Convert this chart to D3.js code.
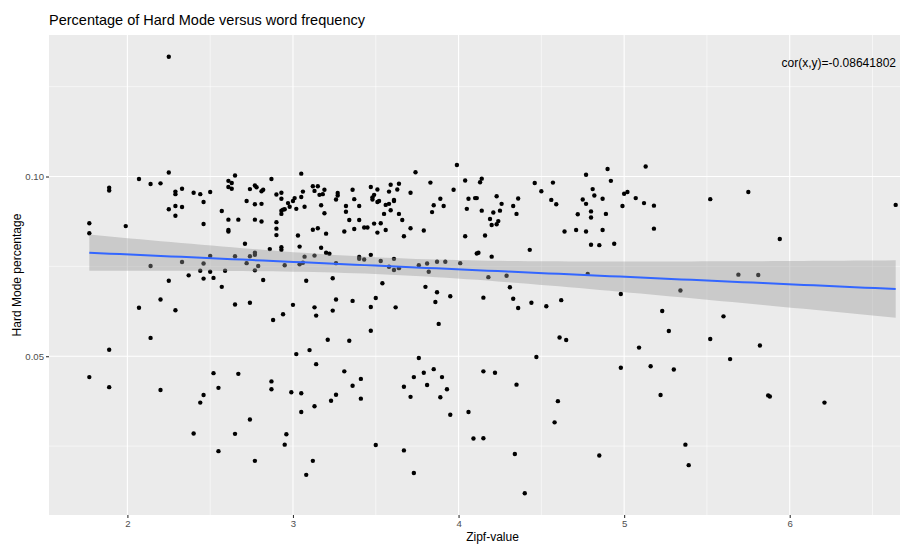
<!DOCTYPE html>
<html>
<head>
<meta charset="utf-8">
<script src="https://cdn.jsdelivr.net/npm/d3@7"></script>
<style>
  html, body { margin: 0; padding: 0; background: #fff; }
  svg { display: block; font-family: "Liberation Sans", Arial, sans-serif; }
</style>
</head>
<body>
<svg id="chart" width="900" height="544"></svg>
<script>
// Zipf frequency value of each word
const zipf = [
  2.25,1.89,1.89,2.07,2.14,2.20,2.25,2.29,2.29,2.33,2.40,2.44,2.50,2.61,2.63,2.65,2.61,2.63,2.74,2.77,2.78,
  2.81,2.82,2.87,2.90,2.93,2.93,3.01,3.05,3.05,3.06,3.12,3.15,3.13,3.16,3.18,3.19,3.27,3.27,3.26,3.36,3.37,
  3.47,3.49,3.48,3.51,3.48,3.58,3.59,3.63,3.64,3.61,3.71,3.74,3.83,3.89,3.97,3.99,4.04,4.06,
  4.10,4.11,4.13,4.14,4.23,4.36,4.46,4.50,4.57,4.56,4.75,4.77,4.81,4.82,4.87,4.90,4.92,5.00,5.02,5.07,5.13,
  5.52,5.75,
  2.46,2.29,2.25,2.33,2.29,2.46,2.57,2.61,2.67,2.72,2.77,2.77,2.61,2.61,1.77,1.77,1.99,2.71,2.50,2.65,2.74,
  2.77,2.77,2.72,2.14,2.33,2.46,2.44,2.50,2.59,2.77,2.79,2.37,2.25,2.46,2.52,2.57,2.07,2.20,2.29,2.65,2.74,
  2.14,1.89,
  2.81,3.00,2.97,2.98,2.93,2.94,2.95,2.93,2.81,2.90,2.90,2.90,3.02,3.07,3.17,3.19,3.32,3.32,3.40,3.34,3.40,
  3.12,3.15,3.20,3.31,3.37,3.43,3.45,3.49,3.53,3.51,3.56,3.51,3.52,3.55,3.58,3.61,3.59,3.56,3.64,3.66,3.71,
  3.67,3.79,3.84,3.85,3.91,4.05,4.04,3.03,3.04,2.93,2.93,2.86,3.17,3.20,3.22,3.13,3.07,2.95,3.04,3.06,3.26,
  3.40,3.40,3.43,3.47,3.53,3.61,3.58,3.61,3.64,3.76,3.81,3.82,3.87,3.92,4.01,2.82,3.08,3.24,3.54,3.80,3.87,
  3.95,3.86,3.50,3.47,3.36,3.26,3.13,3.14,3.24,3.00,2.94,2.88,3.62,3.88,3.47,3.21,3.34,3.10,3.02,3.76,
  4.59,4.77,5.12,5.18,4.14,4.21,4.25,4.26,4.19,4.20,4.23,4.24,4.33,4.35,4.16,4.11,4.12,4.20,4.43,4.64,4.71,
  4.77,4.72,4.80,4.80,4.89,4.87,4.80,4.85,4.94,4.99,5.18,4.18,4.29,4.78,4.31,4.15,4.33,4.44,4.36,4.53,4.62,
  4.98,5.23,5.27,4.61,4.65,5.09,4.47,
  6.64,5.94,5.69,5.81,5.34,5.60,5.52,5.82,5.64,
  1.77,1.89,2.20,2.52,2.67,2.55,2.46,2.44,2.74,2.40,2.65,2.55,2.77,
  3.14,2.87,2.87,2.99,3.05,3.05,3.13,3.23,3.26,3.31,3.36,3.41,3.41,2.96,2.95,3.12,3.08,3.50,3.67,3.71,3.73,
  3.79,3.81,3.85,3.90,3.89,3.93,3.95,4.06,3.67,3.73,
  4.15,4.22,4.35,4.09,4.15,4.60,4.58,4.34,4.40,4.85,4.98,5.16,5.30,5.22,
  5.87,5.88,6.21,5.37,5.39
];

// Share of players who used Hard Mode for that word
const hardPct = [
  0.1333,0.0969,0.0961,0.0993,0.0979,0.0981,0.1011,0.0958,0.0951,0.0966,0.0955,0.0951,0.0957,0.0988,0.0982,0.1003,0.0971,0.0966,0.0965,0.0975,0.0970,
  0.0959,0.0963,0.0993,0.0950,0.0955,0.0938,0.0940,0.0943,0.1008,0.0958,0.0973,0.0973,0.0960,0.0949,0.0951,0.0963,0.0954,0.0947,0.0936,0.0963,0.0937,
  0.0971,0.0949,0.0942,0.0964,0.0936,0.0958,0.0977,0.0964,0.0980,0.0935,0.0955,0.1012,0.0983,0.0938,0.0963,0.1032,0.0989,0.0938,
  0.0940,0.0940,0.0984,0.0994,0.0945,0.0939,0.0982,0.0959,0.0983,0.0935,0.0936,0.1005,0.0965,0.0947,0.0938,0.1021,0.0988,0.0952,0.0957,0.0940,0.1028,
  0.0937,0.0957,
  0.0929,0.0918,0.0909,0.0915,0.0891,0.0868,0.0904,0.0880,0.0880,0.0932,0.0923,0.0880,0.0851,0.0847,0.0870,0.0842,0.0862,0.0813,0.0779,0.0778,0.0778,
  0.0788,0.0782,0.0759,0.0751,0.0762,0.0758,0.0738,0.0735,0.0738,0.0739,0.0751,0.0725,0.0710,0.0716,0.0718,0.0693,0.0635,0.0658,0.0628,0.0644,0.0649,
  0.0551,0.0518,
  0.0924,0.0932,0.0926,0.0916,0.0905,0.0908,0.0909,0.0896,0.0875,0.0873,0.0855,0.0837,0.0910,0.0916,0.0920,0.0898,0.0918,0.0902,0.0918,0.0879,0.0879,
  0.0852,0.0856,0.0841,0.0847,0.0854,0.0858,0.0858,0.0869,0.0870,0.0844,0.0851,0.0929,0.0932,0.0896,0.0924,0.0932,0.0906,0.0921,0.0896,0.0879,0.0856,
  0.0834,0.0850,0.0901,0.0920,0.0918,0.0910,0.0834,0.0836,0.0805,0.0803,0.0796,0.0798,0.0802,0.0788,0.0785,0.0780,0.0777,0.0753,0.0756,0.0760,0.0759,
  0.0776,0.0771,0.0769,0.0782,0.0765,0.0771,0.0749,0.0740,0.0745,0.0753,0.0758,0.0735,0.0763,0.0763,0.0759,0.0712,0.0710,0.0717,0.0703,0.0693,0.0678,
  0.0667,0.0651,0.0662,0.0637,0.0654,0.0658,0.0636,0.0613,0.0627,0.0643,0.0617,0.0601,0.0636,0.0590,0.0571,0.0546,0.0543,0.0517,0.0506,0.0495,
  0.0923,0.0924,0.0926,0.0919,0.0905,0.0900,0.0905,0.0924,0.0882,0.0865,0.0867,0.0876,0.0918,0.0896,0.0836,0.0786,0.0788,0.0777,0.0796,0.0847,0.0851,
  0.0847,0.0895,0.0903,0.0886,0.0896,0.0851,0.0810,0.0809,0.0813,0.0918,0.0855,0.0720,0.0724,0.0729,0.0692,0.0663,0.0660,0.0649,0.0634,0.0639,0.0656,
  0.0673,0.0626,0.0570,0.0552,0.0545,0.0524,0.0498,
  0.0921,0.0826,0.0727,0.0726,0.0683,0.0611,0.0548,0.0530,0.0492,
  0.0442,0.0414,0.0406,0.0453,0.0451,0.0412,0.0392,0.0371,0.0324,0.0285,0.0284,0.0236,0.0209,
  0.0478,0.0430,0.0408,0.0400,0.0397,0.0345,0.0361,0.0376,0.0393,0.0458,0.0418,0.0437,0.0382,0.0283,0.0254,0.0209,0.0170,0.0253,0.0415,0.0387,0.0442,
  0.0454,0.0420,0.0464,0.0442,0.0386,0.0408,0.0337,0.0345,0.0238,0.0175,
  0.0458,0.0454,0.0421,0.0271,0.0272,0.0375,0.0316,0.0228,0.0119,0.0224,0.0468,0.0472,0.0463,0.0392,
  0.0391,0.0388,0.0371,0.0254,0.0197
];

const xTicks = [2, 3, 4, 5, 6];
const xMinor = [2.5, 3.5, 4.5, 5.5, 6.5];
const yTicks = [0.05, 0.10];
const yMinor = [0.025, 0.075, 0.125];
const corLabel = "cor(x,y)=-0.08641802";

const points = zipf.map((z, i) => ({ x: z, y: hardPct[i] }));

const svg = d3.select("#chart");
const panel = { left: 49, right: 936, top: 35, bottom: 515 };

// ggplot-style 5% expansion around the data range
function expanded(ext) {
  const pad = (ext[1] - ext[0]) * 0.05;
  return [ext[0] - pad, ext[1] + pad];
}
const xExt = d3.extent(zipf);
const yExt = d3.extent(hardPct);
const x = d3.scaleLinear().domain(expanded(xExt)).range([panel.left, panel.right]);
const y = d3.scaleLinear().domain(expanded(yExt)).range([panel.bottom, panel.top]);

svg.append("rect").attr("width", 900).attr("height", 544).attr("fill", "#ffffff");

svg.append("defs").append("clipPath").attr("id", "panelClip")
  .append("rect")
  .attr("x", panel.left).attr("y", panel.top)
  .attr("width", panel.right - panel.left).attr("height", panel.bottom - panel.top);

const g = svg.append("g").attr("clip-path", "url(#panelClip)");

g.append("rect")
  .attr("x", panel.left).attr("y", panel.top)
  .attr("width", panel.right - panel.left).attr("height", panel.bottom - panel.top)
  .attr("fill", "#EBEBEB");

// grid lines
g.selectAll("line.xminor").data(xMinor).join("line")
  .attr("x1", d => x(d)).attr("x2", d => x(d))
  .attr("y1", panel.top).attr("y2", panel.bottom)
  .attr("stroke", "#ffffff").attr("stroke-width", 0.55);
g.selectAll("line.yminor").data(yMinor).join("line")
  .attr("y1", d => y(d)).attr("y2", d => y(d))
  .attr("x1", panel.left).attr("x2", panel.right)
  .attr("stroke", "#ffffff").attr("stroke-width", 0.55);
g.selectAll("line.xmajor").data(xTicks).join("line")
  .attr("x1", d => x(d)).attr("x2", d => x(d))
  .attr("y1", panel.top).attr("y2", panel.bottom)
  .attr("stroke", "#ffffff").attr("stroke-width", 1.1);
g.selectAll("line.ymajor").data(yTicks).join("line")
  .attr("y1", d => y(d)).attr("y2", d => y(d))
  .attr("x1", panel.left).attr("x2", panel.right)
  .attr("stroke", "#ffffff").attr("stroke-width", 1.1);

// scatter points
g.selectAll("circle.pt").data(points).join("circle")
  .attr("class", "pt")
  .attr("cx", d => x(d.x)).attr("cy", d => y(d.y))
  .attr("r", 2.2)
  .attr("fill", "#000000");

// linear fit with 95% confidence band
const n = points.length;
const xbar = d3.mean(zipf), ybar = d3.mean(hardPct);
const sxx = d3.sum(zipf, v => (v - xbar) ** 2);
const sxy = d3.sum(points, p => (p.x - xbar) * (p.y - ybar));
const slope = sxy / sxx;
const intercept = ybar - slope * xbar;
const rss = d3.sum(points, p => (p.y - (intercept + slope * p.x)) ** 2);
const sigma = Math.sqrt(rss / (n - 2));
const tCrit = 1.967;
const fit = d3.range(80).map(i => {
  const xv = xExt[0] + (xExt[1] - xExt[0]) * i / 79;
  const yv = intercept + slope * xv;
  const se = sigma * Math.sqrt(1 / n + (xv - xbar) ** 2 / sxx);
  return { x: xv, y: yv, lo: yv - tCrit * se, hi: yv + tCrit * se };
});

g.append("path").datum(fit)
  .attr("d", d3.area().x(d => x(d.x)).y0(d => y(d.lo)).y1(d => y(d.hi)))
  .attr("fill", "#999999").attr("fill-opacity", 0.4);
g.append("path").datum(fit)
  .attr("d", d3.line().x(d => x(d.x)).y(d => y(d.y)))
  .attr("fill", "none").attr("stroke", "#3366FF").attr("stroke-width", 2);

// correlation annotation
svg.append("text")
  .attr("x", 896).attr("y", 66.5)
  .attr("text-anchor", "end")
  .attr("font-size", 12).attr("fill", "#000000")
  .text(corLabel);

// axes
const xAxis = svg.append("g").attr("transform", `translate(0,${panel.bottom})`)
  .call(d3.axisBottom(x).tickValues(xTicks).tickSize(3).tickPadding(2).tickFormat(d3.format("d")));
const yAxis = svg.append("g").attr("transform", `translate(${panel.left},0)`)
  .call(d3.axisLeft(y).tickValues(yTicks).tickSize(3).tickPadding(2).tickFormat(d3.format(".2f")));
[xAxis, yAxis].forEach(a => {
  a.select(".domain").remove();
  a.selectAll(".tick line").attr("stroke", "#333333").attr("stroke-width", 1.1);
  a.selectAll(".tick text").attr("fill", "#4D4D4D").attr("font-size", 9.6)
    .attr("font-family", "Liberation Sans, Arial, sans-serif");
});

// titles
svg.append("text")
  .attr("x", panel.left).attr("y", 25)
  .attr("font-size", 14.5).attr("fill", "#000000")
  .text("Percentage of Hard Mode versus word frequency");
svg.append("text")
  .attr("x", (panel.left + panel.right) / 2).attr("y", 541)
  .attr("text-anchor", "middle")
  .attr("font-size", 12).attr("fill", "#000000")
  .text("Zipf-value");
svg.append("text")
  .attr("transform", `translate(21,${(panel.top + panel.bottom) / 2}) rotate(-90)`)
  .attr("text-anchor", "middle")
  .attr("font-size", 12).attr("fill", "#000000")
  .text("Hard Mode percentage");
</script>
</body>
</html>
